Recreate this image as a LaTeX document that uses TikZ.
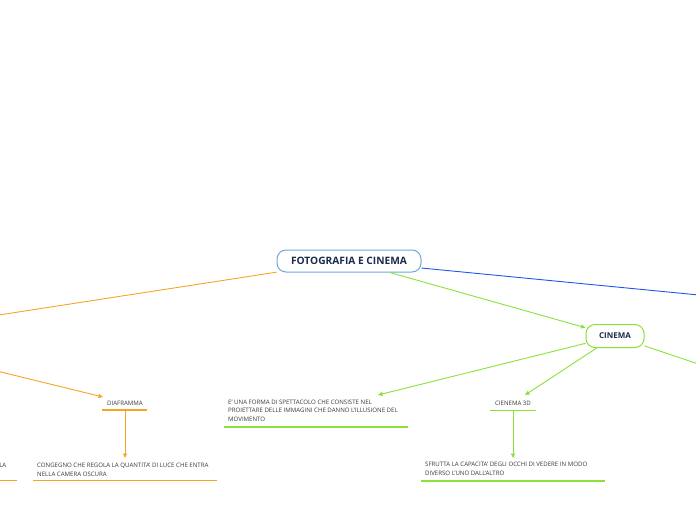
\documentclass[tikz,border=0pt]{standalone}
\usepackage{fontspec}
\setmainfont{Open Sans}
\usetikzlibrary{arrows.meta}
\definecolor{orng}{HTML}{F7A325}
\definecolor{grn}{HTML}{8BE03A}
\definecolor{blu}{HTML}{1E58EA}
\definecolor{cbord}{HTML}{6EA8DA}
\definecolor{navy}{HTML}{1C2B4C}
\definecolor{txt}{HTML}{3A3A3A}
\tikzset{
  topic/.style={rounded corners=9pt, line width=1pt, fill=white, inner sep=0pt},
  small/.style={font=\fontsize{6.1}{8.2}\selectfont, text=txt, inner sep=0pt, align=left},
  smallw/.style={font=\fontsize{6.1}{9}\selectfont, text=txt, inner sep=0pt, align=left},
  conn/.style={line width=0.9pt},
  tip/.style={-{Triangle[length=4.5pt,width=4pt]}},
  uline/.style={line width=1.3pt}
}
\begin{document}
\begin{tikzpicture}[x=1pt,y=-1pt]
\useasboundingbox (0,0) rectangle (696,520);

% off-canvas end points
\coordinate (offL) at (-40,321);
\coordinate (offL2) at (-40,362);
\coordinate (offR) at (740,299);
\coordinate (offR2) at (740,378);

% main topics
\node[topic, draw=cbord, minimum width=144pt, minimum height=22pt,
      font=\bfseries\fontsize{10.2}{12}\selectfont, text=navy] (root) at (349,261) {FOTOGRAFIA E CINEMA};
\node[topic, draw=grn, minimum width=58pt, minimum height=23pt,
      font=\bfseries\fontsize{8}{9}\selectfont, text=navy] (cin) at (615,336) {CINEMA};

% text nodes
\node[small, anchor=center] (dia) at (125,403.5) {DIAFRAMMA};
\node[smallw, anchor=north west] (cong) at (37,462.5) {CONGEGNO CHE REGOLA LA QUANTITA' DI LUCE CHE ENTRA\\NELLA CAMERA OSCURA};
\node[smallw, anchor=north east] (la) at (6.5,462.5) {LA};
\node[small, anchor=north west] (forma) at (228,400) {E' UNA FORMA DI SPETTACOLO CHE CONSISTE NEL\\PROIETTARE DELLE IMMAGINI CHE DANNO L'ILLUSIONE DEL\\MOVIMENTO};
\node[small, anchor=center] (c3d) at (513,403.5) {CIENEMA 3D};
\node[smallw, anchor=north west] (sfr) at (425,461.5) {SFRUTTA LA CAPACITA' DEGLI OCCHI DI VEDERE IN MODO\\DIVERSO L'UNO DALL'ALTRO};

% underlines
\draw[uline, orng] (102,410) -- (147,410);
\draw[uline, orng] (33,480.5) -- (217,480.5);
\draw[uline, orng] (0,480.5) -- (17,480.5);
\draw[uline, grn] (224,427) -- (408,427);
\draw[uline, grn] (490,410.5) -- (536,410.5);
\draw[uline, grn] (421,481) -- (605,481);

% connector end points
\coordinate (diaIn) at (103,397);
\coordinate (diaU) at (125,410);
\coordinate (congIn) at (125,458);
\coordinate (formaIn) at (378,395);
\coordinate (c3dIn) at (525,395);
\coordinate (c3dU) at (513,411);
\coordinate (sfrIn) at (513,458);

% connectors
\draw[conn, orng] (root) -- (offL);
\draw[conn, blu] (root) -- (offR);
\draw[conn, grn, tip] (root) -- (cin);
\draw[conn, grn, tip] (cin) -- (formaIn);
\draw[conn, grn, tip] (cin) -- (c3dIn);
\draw[conn, grn] (cin) -- (offR2);
\draw[conn, orng, tip] (offL2) -- (diaIn);
\draw[conn, orng, tip] (diaU) -- (congIn);
\draw[conn, grn, tip] (c3dU) -- (sfrIn);
\end{tikzpicture}
\end{document}
